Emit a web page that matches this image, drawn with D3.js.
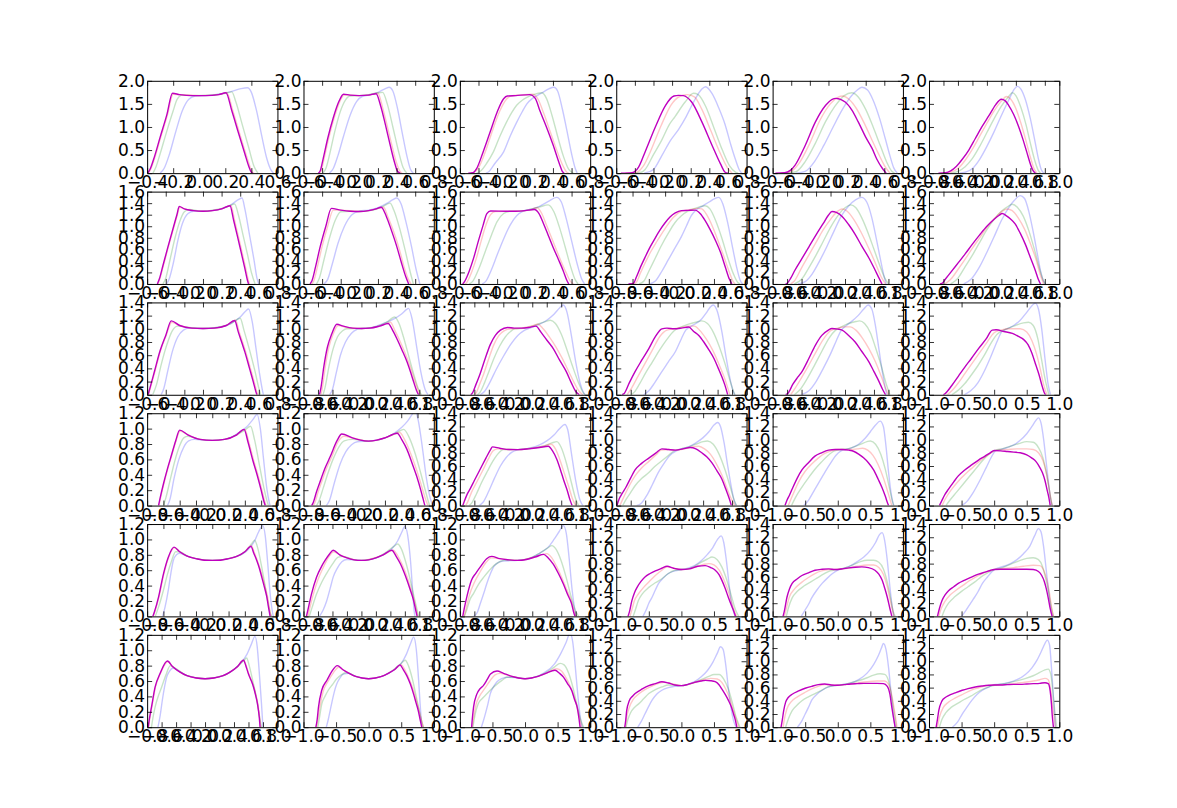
<!DOCTYPE html>
<html><head><meta charset="utf-8">
<script src="https://cdn.jsdelivr.net/npm/d3@7"></script>
<style>body{margin:0;background:#fff}svg{display:block}</style>
</head><body><svg id="c" width="1177" height="808"></svg>
<script>
// x-axis limits of each panel (row-major, 6x6)
const xDomains = [
 [-0.4,0.6],[-0.6,0.8],[-0.6,0.8],[-0.6,0.8],[-0.6,0.8],[-0.8,1.0],
 [-0.6,0.8],[-0.6,0.8],[-0.6,0.8],[-0.8,0.8],[-0.8,1.0],[-0.8,1.0],
 [-0.6,0.8],[-0.8,1.0],[-0.8,1.0],[-0.8,1.0],[-0.8,1.0],[-1,1],
 [-0.8,0.8],[-0.8,0.8],[-0.8,1.0],[-0.8,1.0],[-1,1],[-1,1],
 [-0.8,0.8],[-0.8,1.0],[-0.8,1.0],[-1,1],[-1,1],[-1,1],
 [-0.8,1.0],[-1,1],[-1,1],[-1,1],[-1,1],[-1,1]
];
// y-axis upper limit of each panel
const yMaxes = [
 2.0,2.0,2.0,2.0,2.0,2.0,
 1.6,1.6,1.6,1.6,1.6,1.6,
 1.4,1.4,1.4,1.4,1.4,1.4,
 1.2,1.2,1.4,1.4,1.4,1.4,
 1.2,1.2,1.2,1.4,1.4,1.4,
 1.2,1.2,1.2,1.4,1.4,1.4
];

const magenta = [
[[-0.395,0],[-0.375,0.1],[-0.35,0.3],[-0.3,0.78],[-0.25,1.25],[-0.205,1.73],[-0.15,1.7],[-0.05,1.68],[0.05,1.68],[0.15,1.7],[0.205,1.74],[0.25,1.35],[0.3,0.88],[0.35,0.42],[0.38,0.15],[0.4,0.02],[0.41,0]],
[[-0.44,0],[-0.42,0.05],[-0.39,0.3],[-0.34,0.75],[-0.28,1.2],[-0.22,1.55],[-0.17,1.71],[-0.1,1.69],[0,1.68],[0.1,1.69],[0.18,1.72],[0.23,1.45],[0.28,1.05],[0.33,0.62],[0.38,0.22],[0.41,0.04],[0.44,0]],
[[-0.51,0],[-0.46,0.01],[-0.42,0.1],[-0.35,0.46],[-0.275,0.89],[-0.2,1.32],[-0.13,1.61],[-0.09,1.67],[0,1.68],[0.15,1.7],[0.21,1.62],[0.26,1.35],[0.33,1.0],[0.4,0.62],[0.47,0.2],[0.5,0.04],[0.52,0]],
[[-0.55,0],[-0.43,0.01],[-0.36,0.13],[-0.29,0.46],[-0.18,1.0],[-0.07,1.47],[0.02,1.67],[0.07,1.685],[0.12,1.68],[0.21,1.54],[0.32,1.11],[0.43,0.6],[0.52,0.2],[0.57,0.02],[0.6,0]],
[[-0.57,0],[-0.47,0.01],[-0.41,0.06],[-0.36,0.17],[-0.25,0.6],[-0.14,1.11],[-0.03,1.47],[0.04,1.6],[0.08,1.62],[0.18,1.54],[0.25,1.37],[0.32,1.11],[0.4,0.78],[0.47,0.53],[0.52,0.3],[0.58,0.1],[0.62,0]],
[[-0.67,0],[-0.57,0.01],[-0.5,0.05],[-0.42,0.15],[-0.34,0.3],[-0.25,0.5],[-0.16,0.75],[-0.07,1.0],[0.03,1.25],[0.12,1.48],[0.2,1.6],[0.25,1.57],[0.3,1.47],[0.37,1.27],[0.44,1.0],[0.5,0.72],[0.55,0.46],[0.6,0.2],[0.64,0.05],[0.67,0]],
[[-0.49,0],[-0.47,0.08],[-0.43,0.32],[-0.38,0.62],[-0.32,0.97],[-0.28,1.2],[-0.255,1.345],[-0.2,1.3],[-0.1,1.27],[0,1.26],[0.1,1.27],[0.2,1.3],[0.29,1.355],[0.33,1.1],[0.37,0.83],[0.41,0.55],[0.45,0.27],[0.48,0.05],[0.49,0]],
[[-0.53,0],[-0.51,0.05],[-0.47,0.3],[-0.42,0.65],[-0.36,1.0],[-0.3,1.31],[-0.2,1.28],[-0.1,1.26],[0,1.255],[0.1,1.27],[0.18,1.3],[0.235,1.33],[0.29,1.17],[0.34,0.95],[0.4,0.66],[0.45,0.38],[0.5,0.12],[0.53,0]],
[[-0.57,0],[-0.55,0.04],[-0.5,0.22],[-0.45,0.46],[-0.4,0.75],[-0.35,1.02],[-0.31,1.22],[-0.27,1.265],[-0.1,1.26],[0,1.26],[0.1,1.27],[0.2,1.29],[0.25,1.22],[0.3,1.04],[0.35,0.84],[0.4,0.64],[0.46,0.42],[0.51,0.23],[0.55,0.06],[0.57,0]],
[[-0.65,0],[-0.59,0.01],[-0.55,0.13],[-0.5,0.3],[-0.44,0.48],[-0.38,0.65],[-0.32,0.8],[-0.26,0.94],[-0.2,1.06],[-0.14,1.16],[-0.075,1.23],[0,1.27],[0.08,1.275],[0.17,1.28],[0.23,1.22],[0.29,1.1],[0.35,0.95],[0.42,0.75],[0.48,0.55],[0.54,0.29],[0.59,0.08],[0.62,0]],
[[-0.62,0],[-0.6,0.01],[-0.55,0.1],[-0.5,0.22],[-0.4,0.43],[-0.3,0.64],[-0.2,0.85],[-0.1,1.05],[-0.03,1.19],[0.02,1.255],[0.08,1.24],[0.16,1.17],[0.25,1.03],[0.34,0.86],[0.43,0.66],[0.53,0.45],[0.6,0.28],[0.67,0.1],[0.71,0]],
[[-0.65,0],[-0.62,0.01],[-0.57,0.09],[-0.5,0.2],[-0.4,0.36],[-0.3,0.52],[-0.2,0.69],[-0.1,0.85],[0,1.0],[0.1,1.12],[0.17,1.19],[0.21,1.22],[0.27,1.18],[0.33,1.12],[0.39,1.04],[0.46,0.88],[0.53,0.69],[0.6,0.46],[0.67,0.23],[0.71,0.08],[0.74,0]],
[[-0.59,0],[-0.57,0.1],[-0.52,0.36],[-0.46,0.67],[-0.4,0.9],[-0.34,1.12],[-0.25,1.05],[-0.12,1.01],[0,1.005],[0.12,1.01],[0.25,1.05],[0.34,1.125],[0.38,0.95],[0.42,0.78],[0.45,0.65],[0.5,0.4],[0.54,0.2],[0.57,0.04],[0.58,0]],
[[-0.58,0],[-0.56,0.1],[-0.52,0.42],[-0.47,0.72],[-0.41,0.92],[-0.34,1.07],[-0.25,1.04],[-0.12,1.01],[0,1.005],[0.12,1.01],[0.25,1.04],[0.37,1.08],[0.43,0.98],[0.49,0.85],[0.56,0.68],[0.63,0.5],[0.68,0.34],[0.72,0.2],[0.76,0.07],[0.79,0]],
[[-0.65,0],[-0.63,0.02],[-0.58,0.15],[-0.52,0.32],[-0.45,0.55],[-0.38,0.76],[-0.31,0.9],[-0.24,0.98],[-0.14,1.02],[-0.05,1.01],[0.05,1.01],[0.15,1.02],[0.25,1.04],[0.32,0.95],[0.4,0.83],[0.49,0.7],[0.58,0.52],[0.67,0.35],[0.74,0.18],[0.8,0.05],[0.85,0]],
[[-0.72,0],[-0.69,0.02],[-0.62,0.18],[-0.54,0.35],[-0.45,0.52],[-0.35,0.7],[-0.26,0.88],[-0.17,1.0],[-0.1,1.01],[0,1.0],[0.1,1.01],[0.2,1.027],[0.27,0.96],[0.34,0.9],[0.41,0.8],[0.48,0.68],[0.55,0.55],[0.61,0.4],[0.66,0.27],[0.7,0.15],[0.74,0]],
[[-0.62,0],[-0.59,0.02],[-0.52,0.16],[-0.45,0.27],[-0.39,0.36],[-0.3,0.55],[-0.21,0.75],[-0.12,0.9],[-0.03,0.98],[0.02,1.005],[0.1,0.995],[0.16,0.98],[0.25,0.9],[0.34,0.8],[0.43,0.66],[0.53,0.5],[0.6,0.35],[0.67,0.2],[0.72,0.08],[0.76,0]],
[[-0.78,0],[-0.75,0.02],[-0.65,0.14],[-0.55,0.28],[-0.45,0.42],[-0.35,0.55],[-0.24,0.7],[-0.12,0.85],[-0.03,0.98],[0.03,0.985],[0.15,0.96],[0.28,0.93],[0.38,0.88],[0.45,0.84],[0.52,0.76],[0.58,0.63],[0.64,0.45],[0.69,0.3],[0.74,0.12],[0.77,0.03],[0.79,0]],
[[-0.66,0],[-0.64,0.1],[-0.6,0.28],[-0.55,0.48],[-0.5,0.66],[-0.45,0.84],[-0.4,0.98],[-0.3,0.92],[-0.15,0.86],[0,0.847],[0.15,0.86],[0.3,0.92],[0.39,0.99],[0.44,0.82],[0.5,0.58],[0.55,0.4],[0.6,0.2],[0.63,0.07],[0.65,0]],
[[-0.7,0],[-0.68,0.04],[-0.64,0.18],[-0.6,0.3],[-0.53,0.5],[-0.47,0.64],[-0.39,0.84],[-0.33,0.93],[-0.2,0.88],[-0.1,0.85],[0,0.838],[0.1,0.85],[0.2,0.88],[0.35,0.94],[0.41,0.85],[0.47,0.73],[0.53,0.56],[0.59,0.38],[0.64,0.2],[0.67,0.08],[0.69,0]],
[[-0.76,0],[-0.74,0.06],[-0.7,0.17],[-0.66,0.25],[-0.6,0.38],[-0.52,0.55],[-0.44,0.72],[-0.38,0.84],[-0.35,0.89],[-0.25,0.87],[-0.12,0.85],[0,0.848],[0.15,0.86],[0.3,0.88],[0.42,0.9],[0.48,0.83],[0.54,0.7],[0.59,0.54],[0.63,0.4],[0.68,0.24],[0.72,0.09],[0.75,0]],
[[-0.79,0],[-0.76,0.1],[-0.72,0.18],[-0.67,0.27],[-0.6,0.42],[-0.54,0.54],[-0.45,0.64],[-0.35,0.72],[-0.25,0.8],[-0.17,0.86],[-0.08,0.85],[0.02,0.84],[0.12,0.86],[0.22,0.88],[0.3,0.86],[0.38,0.8],[0.45,0.74],[0.52,0.65],[0.59,0.53],[0.66,0.4],[0.71,0.26],[0.75,0.14],[0.78,0.04],[0.79,0]],
[[-0.81,0],[-0.78,0.08],[-0.74,0.16],[-0.7,0.25],[-0.62,0.42],[-0.55,0.54],[-0.45,0.65],[-0.35,0.75],[-0.25,0.8],[-0.14,0.84],[-0.04,0.85],[0.07,0.85],[0.17,0.84],[0.25,0.82],[0.32,0.78],[0.4,0.72],[0.47,0.65],[0.55,0.54],[0.62,0.4],[0.68,0.27],[0.73,0.14],[0.76,0.05],[0.78,0]],
[[-0.84,0],[-0.81,0.06],[-0.76,0.16],[-0.7,0.25],[-0.62,0.36],[-0.55,0.45],[-0.45,0.54],[-0.34,0.62],[-0.24,0.69],[-0.14,0.75],[-0.06,0.8],[0,0.835],[0.1,0.83],[0.2,0.82],[0.3,0.81],[0.4,0.8],[0.5,0.77],[0.58,0.72],[0.64,0.67],[0.7,0.58],[0.74,0.5],[0.78,0.38],[0.81,0.25],[0.84,0.12],[0.86,0]],
[[-0.73,0],[-0.71,0.06],[-0.66,0.25],[-0.6,0.55],[-0.54,0.77],[-0.47,0.9],[-0.4,0.84],[-0.3,0.78],[-0.2,0.75],[-0.1,0.73],[0,0.728],[0.1,0.73],[0.2,0.75],[0.3,0.78],[0.4,0.84],[0.475,0.91],[0.51,0.82],[0.545,0.73],[0.58,0.62],[0.61,0.5],[0.64,0.38],[0.67,0.25],[0.69,0.12],[0.71,0]],
[[-0.76,0],[-0.74,0.08],[-0.69,0.29],[-0.62,0.51],[-0.55,0.65],[-0.5,0.73],[-0.44,0.81],[-0.39,0.86],[-0.3,0.8],[-0.2,0.76],[-0.1,0.735],[0,0.728],[0.1,0.735],[0.2,0.76],[0.3,0.8],[0.42,0.86],[0.48,0.78],[0.54,0.68],[0.59,0.57],[0.63,0.47],[0.68,0.33],[0.72,0.21],[0.75,0.08],[0.77,0]],
[[-0.76,0],[-0.74,0.1],[-0.7,0.27],[-0.64,0.47],[-0.58,0.56],[-0.52,0.64],[-0.43,0.75],[-0.36,0.78],[-0.25,0.75],[-0.12,0.735],[0,0.728],[0.12,0.74],[0.25,0.775],[0.355,0.806],[0.42,0.76],[0.49,0.68],[0.56,0.56],[0.63,0.42],[0.69,0.28],[0.745,0.16],[0.77,0.06],[0.79,0]],
[[-0.82,0],[-0.8,0.06],[-0.76,0.24],[-0.72,0.36],[-0.68,0.44],[-0.62,0.53],[-0.555,0.6],[-0.48,0.65],[-0.4,0.69],[-0.3,0.73],[-0.22,0.76],[-0.12,0.73],[0,0.71],[0.12,0.72],[0.25,0.76],[0.365,0.77],[0.45,0.74],[0.52,0.7],[0.58,0.63],[0.62,0.55],[0.67,0.43],[0.72,0.29],[0.77,0.16],[0.8,0.09],[0.83,0]],
[[-0.84,0],[-0.82,0.08],[-0.78,0.29],[-0.74,0.42],[-0.7,0.5],[-0.62,0.57],[-0.55,0.62],[-0.45,0.66],[-0.35,0.7],[-0.24,0.715],[-0.14,0.72],[-0.04,0.71],[0.07,0.72],[0.17,0.735],[0.27,0.745],[0.37,0.75],[0.47,0.74],[0.57,0.7],[0.63,0.64],[0.68,0.55],[0.72,0.43],[0.76,0.29],[0.8,0.12],[0.83,0]],
[[-0.87,0],[-0.84,0.12],[-0.8,0.24],[-0.75,0.33],[-0.7,0.39],[-0.62,0.45],[-0.55,0.5],[-0.45,0.55],[-0.34,0.6],[-0.24,0.64],[-0.14,0.67],[-0.05,0.7],[0,0.71],[0.1,0.715],[0.2,0.715],[0.3,0.715],[0.4,0.715],[0.5,0.715],[0.6,0.71],[0.68,0.68],[0.73,0.62],[0.77,0.53],[0.8,0.42],[0.83,0.28],[0.86,0.12],[0.89,0]],
[[-0.785,0],[-0.77,0.1],[-0.74,0.26],[-0.69,0.52],[-0.62,0.7],[-0.52,0.86],[-0.45,0.79],[-0.35,0.72],[-0.25,0.67],[-0.12,0.64],[0,0.63],[0.12,0.64],[0.25,0.67],[0.35,0.72],[0.45,0.79],[0.53,0.87],[0.57,0.78],[0.6,0.69],[0.64,0.6],[0.67,0.52],[0.7,0.41],[0.725,0.3],[0.75,0.12],[0.76,0]],
[[-0.81,0],[-0.79,0.1],[-0.77,0.26],[-0.72,0.48],[-0.64,0.61],[-0.57,0.72],[-0.48,0.8],[-0.4,0.75],[-0.3,0.7],[-0.2,0.66],[-0.1,0.64],[0,0.63],[0.1,0.64],[0.2,0.66],[0.3,0.7],[0.4,0.75],[0.48,0.81],[0.53,0.75],[0.585,0.67],[0.64,0.56],[0.69,0.43],[0.73,0.31],[0.76,0.22],[0.79,0.1],[0.815,0]],
[[-0.82,0],[-0.81,0.1],[-0.79,0.26],[-0.74,0.43],[-0.69,0.5],[-0.64,0.54],[-0.58,0.62],[-0.53,0.69],[-0.43,0.73],[-0.33,0.7],[-0.2,0.66],[-0.1,0.64],[0,0.63],[0.1,0.64],[0.2,0.66],[0.32,0.7],[0.46,0.74],[0.53,0.7],[0.59,0.65],[0.65,0.57],[0.72,0.47],[0.76,0.36],[0.8,0.26],[0.83,0.1],[0.845,0]],
[[-0.87,0],[-0.855,0.1],[-0.84,0.25],[-0.8,0.4],[-0.75,0.47],[-0.71,0.51],[-0.6,0.58],[-0.5,0.63],[-0.4,0.66],[-0.3,0.69],[-0.2,0.67],[-0.1,0.64],[0,0.63],[0.1,0.65],[0.2,0.68],[0.3,0.7],[0.37,0.71],[0.45,0.705],[0.52,0.69],[0.58,0.64],[0.62,0.58],[0.67,0.5],[0.72,0.41],[0.77,0.3],[0.8,0.2],[0.83,0.1],[0.85,0]],
[[-0.87,0],[-0.85,0.12],[-0.83,0.25],[-0.8,0.38],[-0.76,0.45],[-0.7,0.5],[-0.6,0.55],[-0.5,0.59],[-0.4,0.62],[-0.3,0.645],[-0.2,0.655],[-0.1,0.64],[0,0.635],[0.1,0.645],[0.2,0.655],[0.3,0.66],[0.4,0.665],[0.5,0.665],[0.6,0.665],[0.7,0.66],[0.76,0.62],[0.8,0.5],[0.83,0.3],[0.86,0.12],[0.88,0]],
[[-0.89,0],[-0.87,0.12],[-0.85,0.25],[-0.8,0.4],[-0.75,0.45],[-0.7,0.48],[-0.6,0.52],[-0.49,0.56],[-0.4,0.585],[-0.29,0.61],[-0.18,0.625],[-0.08,0.635],[0,0.64],[0.1,0.64],[0.2,0.645],[0.3,0.65],[0.4,0.65],[0.5,0.655],[0.6,0.66],[0.7,0.665],[0.78,0.675],[0.83,0.66],[0.86,0.55],[0.88,0.35],[0.89,0.2],[0.91,0]]
];

const red = [
[[-0.39,0],[-0.37,0.1],[-0.345,0.3],[-0.295,0.78],[-0.245,1.25],[-0.2,1.71],[-0.15,1.7],[0,1.68],[0.15,1.7],[0.21,1.745],[0.26,1.33],[0.31,0.86],[0.36,0.4],[0.39,0.14],[0.41,0.02],[0.42,0]],
[[-0.43,0],[-0.41,0.05],[-0.38,0.3],[-0.33,0.75],[-0.27,1.2],[-0.21,1.55],[-0.16,1.69],[-0.1,1.69],[0,1.68],[0.1,1.69],[0.2,1.73],[0.25,1.42],[0.3,1.02],[0.35,0.6],[0.4,0.22],[0.44,0.03],[0.46,0]],
[[-0.48,0],[-0.43,0.04],[-0.39,0.15],[-0.32,0.5],[-0.25,0.92],[-0.17,1.35],[-0.1,1.6],[-0.05,1.67],[0.05,1.69],[0.18,1.71],[0.24,1.6],[0.3,1.3],[0.37,0.9],[0.44,0.5],[0.51,0.15],[0.55,0.02],[0.57,0]],
[[-0.5,0],[-0.38,0.02],[-0.31,0.15],[-0.23,0.48],[-0.12,1.02],[-0.01,1.48],[0.08,1.66],[0.16,1.7],[0.24,1.65],[0.32,1.38],[0.42,0.9],[0.52,0.42],[0.6,0.1],[0.645,0]],
[[-0.52,0],[-0.42,0.02],[-0.32,0.2],[-0.2,0.65],[-0.09,1.15],[0.02,1.5],[0.1,1.64],[0.15,1.67],[0.22,1.6],[0.3,1.4],[0.38,1.1],[0.46,0.75],[0.53,0.45],[0.6,0.17],[0.66,0]],
[[-0.6,0],[-0.5,0.02],[-0.4,0.1],[-0.3,0.28],[-0.2,0.52],[-0.1,0.8],[0,1.08],[0.1,1.35],[0.2,1.56],[0.27,1.66],[0.33,1.6],[0.4,1.4],[0.47,1.08],[0.54,0.7],[0.6,0.35],[0.65,0.1],[0.69,0]],
[[-0.485,0],[-0.465,0.08],[-0.425,0.32],[-0.375,0.62],[-0.315,0.97],[-0.275,1.2],[-0.25,1.33],[-0.2,1.3],[-0.1,1.27],[0,1.26],[0.1,1.27],[0.2,1.3],[0.3,1.36],[0.34,1.1],[0.38,0.83],[0.42,0.55],[0.46,0.27],[0.49,0.05],[0.5,0]],
[[-0.51,0],[-0.49,0.05],[-0.45,0.3],[-0.4,0.65],[-0.34,1.0],[-0.28,1.28],[-0.2,1.28],[0,1.255],[0.1,1.27],[0.2,1.31],[0.26,1.33],[0.31,1.15],[0.37,0.9],[0.43,0.6],[0.48,0.3],[0.53,0.07],[0.555,0]],
[[-0.54,0],[-0.52,0.04],[-0.47,0.22],[-0.42,0.46],[-0.37,0.75],[-0.32,1.02],[-0.27,1.2],[-0.22,1.255],[0,1.26],[0.15,1.28],[0.23,1.32],[0.28,1.22],[0.33,1.02],[0.4,0.74],[0.47,0.46],[0.54,0.2],[0.59,0.04],[0.62,0]],
[[-0.61,0],[-0.56,0.02],[-0.5,0.2],[-0.44,0.38],[-0.38,0.55],[-0.3,0.74],[-0.2,0.96],[-0.1,1.15],[0,1.26],[0.1,1.285],[0.2,1.31],[0.25,1.3],[0.31,1.2],[0.38,1.0],[0.45,0.75],[0.52,0.48],[0.59,0.2],[0.64,0.03],[0.66,0]],
[[-0.55,0],[-0.5,0.05],[-0.4,0.28],[-0.3,0.5],[-0.2,0.72],[-0.1,0.94],[0,1.12],[0.08,1.24],[0.16,1.3],[0.23,1.26],[0.32,1.12],[0.42,0.9],[0.52,0.64],[0.62,0.36],[0.7,0.12],[0.76,0]],
[[-0.58,0],[-0.5,0.08],[-0.4,0.25],[-0.3,0.43],[-0.2,0.62],[-0.1,0.8],[0,0.98],[0.1,1.13],[0.2,1.25],[0.28,1.3],[0.35,1.27],[0.43,1.15],[0.52,0.95],[0.6,0.7],[0.68,0.42],[0.74,0.15],[0.785,0]],
[[-0.585,0],[-0.565,0.1],[-0.515,0.36],[-0.455,0.67],[-0.395,0.9],[-0.335,1.1],[-0.25,1.05],[-0.12,1.01],[0,1.005],[0.12,1.01],[0.25,1.05],[0.35,1.13],[0.39,0.95],[0.43,0.78],[0.46,0.65],[0.51,0.4],[0.55,0.2],[0.58,0.04],[0.59,0]],
[[-0.56,0],[-0.54,0.1],[-0.5,0.42],[-0.45,0.72],[-0.39,0.92],[-0.32,1.05],[-0.2,1.02],[0,1.005],[0.2,1.03],[0.3,1.06],[0.4,1.1],[0.46,0.98],[0.53,0.82],[0.6,0.64],[0.67,0.44],[0.73,0.24],[0.78,0.08],[0.81,0]],
[[-0.6,0],[-0.58,0.02],[-0.53,0.15],[-0.47,0.32],[-0.4,0.55],[-0.33,0.76],[-0.26,0.9],[-0.19,0.97],[-0.1,1.0],[0.05,1.01],[0.18,1.04],[0.28,1.07],[0.35,1.0],[0.44,0.87],[0.53,0.72],[0.62,0.54],[0.7,0.36],[0.78,0.18],[0.85,0.05],[0.9,0]],
[[-0.65,0],[-0.6,0.08],[-0.5,0.28],[-0.4,0.48],[-0.3,0.68],[-0.2,0.88],[-0.1,0.98],[0,1.0],[0.1,1.02],[0.2,1.04],[0.28,1.04],[0.35,0.98],[0.44,0.85],[0.53,0.68],[0.62,0.46],[0.7,0.24],[0.75,0.07],[0.77,0]],
[[-0.55,0],[-0.5,0.08],[-0.4,0.26],[-0.3,0.45],[-0.2,0.65],[-0.1,0.84],[0,0.97],[0.1,1.01],[0.2,1.03],[0.27,1.03],[0.35,0.98],[0.44,0.86],[0.53,0.7],[0.62,0.5],[0.7,0.28],[0.76,0.1],[0.8,0]],
[[-0.72,0],[-0.65,0.06],[-0.55,0.18],[-0.45,0.32],[-0.35,0.46],[-0.25,0.6],[-0.12,0.78],[0,0.94],[0.1,0.98],[0.25,1.0],[0.4,1.0],[0.5,0.95],[0.58,0.82],[0.65,0.62],[0.71,0.38],[0.76,0.15],[0.81,0]],
[[-0.655,0],[-0.635,0.1],[-0.595,0.28],[-0.545,0.48],[-0.495,0.66],[-0.445,0.84],[-0.395,0.97],[-0.3,0.92],[-0.15,0.86],[0,0.847],[0.15,0.86],[0.3,0.92],[0.4,0.99],[0.45,0.82],[0.51,0.58],[0.56,0.4],[0.61,0.2],[0.64,0.07],[0.66,0]],
[[-0.68,0],[-0.66,0.04],[-0.62,0.18],[-0.58,0.3],[-0.51,0.5],[-0.45,0.64],[-0.38,0.82],[-0.3,0.9],[-0.2,0.88],[0,0.838],[0.2,0.88],[0.3,0.92],[0.38,0.95],[0.44,0.86],[0.5,0.72],[0.56,0.55],[0.62,0.36],[0.67,0.18],[0.71,0.05],[0.73,0]],
[[-0.72,0],[-0.69,0.06],[-0.64,0.2],[-0.57,0.35],[-0.49,0.52],[-0.41,0.7],[-0.34,0.83],[-0.28,0.86],[-0.12,0.85],[0,0.848],[0.2,0.87],[0.35,0.9],[0.46,0.93],[0.52,0.86],[0.58,0.7],[0.64,0.5],[0.7,0.3],[0.75,0.12],[0.8,0]],
[[-0.75,0],[-0.7,0.12],[-0.62,0.3],[-0.54,0.45],[-0.45,0.57],[-0.35,0.67],[-0.25,0.77],[-0.18,0.84],[-0.08,0.85],[0.02,0.84],[0.15,0.86],[0.25,0.89],[0.34,0.9],[0.42,0.86],[0.5,0.78],[0.58,0.64],[0.66,0.46],[0.73,0.26],[0.79,0.1],[0.84,0]],
[[-0.76,0],[-0.7,0.14],[-0.6,0.36],[-0.5,0.52],[-0.4,0.63],[-0.3,0.72],[-0.2,0.79],[-0.1,0.83],[0,0.85],[0.1,0.85],[0.2,0.85],[0.3,0.86],[0.38,0.87],[0.46,0.84],[0.54,0.76],[0.62,0.62],[0.7,0.42],[0.77,0.2],[0.83,0]],
[[-0.8,0],[-0.75,0.1],[-0.65,0.25],[-0.55,0.37],[-0.45,0.47],[-0.35,0.56],[-0.25,0.65],[-0.15,0.73],[-0.05,0.8],[0.05,0.84],[0.2,0.85],[0.35,0.86],[0.5,0.86],[0.6,0.85],[0.68,0.8],[0.75,0.68],[0.8,0.5],[0.84,0.28],[0.87,0.1],[0.89,0]],
[[-0.725,0],[-0.705,0.06],[-0.655,0.25],[-0.595,0.55],[-0.535,0.77],[-0.465,0.89],[-0.4,0.84],[-0.3,0.78],[0,0.728],[0.3,0.78],[0.4,0.84],[0.48,0.92],[0.52,0.82],[0.555,0.72],[0.59,0.61],[0.62,0.5],[0.65,0.38],[0.68,0.25],[0.7,0.12],[0.72,0]],
[[-0.74,0],[-0.72,0.08],[-0.67,0.27],[-0.6,0.48],[-0.53,0.63],[-0.46,0.76],[-0.38,0.84],[-0.3,0.8],[0,0.728],[0.3,0.8],[0.44,0.86],[0.5,0.79],[0.56,0.68],[0.62,0.54],[0.67,0.4],[0.72,0.24],[0.76,0.08],[0.78,0]],
[[-0.74,0],[-0.72,0.08],[-0.67,0.27],[-0.6,0.44],[-0.52,0.58],[-0.44,0.7],[-0.36,0.76],[-0.25,0.75],[0,0.728],[0.25,0.775],[0.4,0.815],[0.47,0.76],[0.54,0.64],[0.61,0.5],[0.68,0.34],[0.74,0.2],[0.78,0.07],[0.81,0]],
[[-0.79,0],[-0.76,0.1],[-0.72,0.24],[-0.66,0.34],[-0.58,0.44],[-0.5,0.52],[-0.4,0.62],[-0.3,0.7],[-0.22,0.75],[-0.12,0.73],[0,0.71],[0.12,0.72],[0.25,0.76],[0.35,0.79],[0.42,0.8],[0.5,0.78],[0.58,0.7],[0.65,0.56],[0.72,0.38],[0.78,0.18],[0.83,0.04],[0.85,0]],
[[-0.82,0],[-0.79,0.12],[-0.74,0.3],[-0.66,0.42],[-0.55,0.52],[-0.45,0.59],[-0.35,0.65],[-0.25,0.69],[-0.12,0.71],[0,0.715],[0.15,0.73],[0.3,0.76],[0.45,0.78],[0.55,0.78],[0.63,0.74],[0.7,0.64],[0.76,0.45],[0.81,0.22],[0.85,0.05],[0.86,0]],
[[-0.85,0],[-0.82,0.1],[-0.76,0.22],[-0.68,0.32],[-0.58,0.4],[-0.48,0.47],[-0.38,0.54],[-0.28,0.6],[-0.18,0.65],[-0.08,0.69],[0,0.71],[0.15,0.725],[0.3,0.74],[0.45,0.76],[0.6,0.775],[0.7,0.77],[0.76,0.7],[0.81,0.55],[0.85,0.35],[0.88,0.15],[0.91,0]],
[[-0.78,0],[-0.765,0.1],[-0.735,0.26],[-0.685,0.52],[-0.615,0.7],[-0.515,0.85],[-0.45,0.79],[-0.35,0.72],[-0.25,0.67],[0,0.63],[0.25,0.67],[0.35,0.72],[0.45,0.79],[0.535,0.87],[0.575,0.78],[0.605,0.69],[0.645,0.6],[0.675,0.52],[0.705,0.41],[0.73,0.3],[0.755,0.12],[0.77,0]],
[[-0.8,0],[-0.78,0.1],[-0.75,0.26],[-0.7,0.46],[-0.62,0.6],[-0.54,0.71],[-0.46,0.78],[-0.4,0.75],[-0.2,0.66],[0,0.63],[0.2,0.66],[0.4,0.75],[0.5,0.81],[0.56,0.74],[0.62,0.63],[0.68,0.5],[0.73,0.36],[0.78,0.2],[0.82,0.06],[0.84,0]],
[[-0.81,0],[-0.79,0.12],[-0.75,0.3],[-0.7,0.4],[-0.62,0.5],[-0.54,0.6],[-0.46,0.68],[-0.38,0.7],[-0.2,0.66],[0,0.63],[0.2,0.66],[0.35,0.71],[0.49,0.76],[0.56,0.73],[0.63,0.64],[0.7,0.52],[0.76,0.38],[0.81,0.22],[0.85,0.07],[0.87,0]],
[[-0.86,0],[-0.84,0.15],[-0.8,0.3],[-0.74,0.42],[-0.66,0.5],[-0.56,0.57],[-0.46,0.62],[-0.36,0.66],[-0.27,0.68],[-0.15,0.66],[0,0.63],[0.15,0.66],[0.3,0.71],[0.45,0.74],[0.55,0.73],[0.62,0.68],[0.68,0.58],[0.74,0.44],[0.79,0.28],[0.84,0.12],[0.88,0]],
[[-0.84,0],[-0.82,0.12],[-0.78,0.28],[-0.72,0.38],[-0.62,0.46],[-0.5,0.53],[-0.4,0.58],[-0.3,0.62],[-0.2,0.645],[-0.1,0.64],[0,0.635],[0.15,0.65],[0.3,0.67],[0.45,0.69],[0.6,0.7],[0.72,0.7],[0.78,0.65],[0.83,0.48],[0.87,0.25],[0.91,0]],
[[-0.87,0],[-0.84,0.15],[-0.78,0.3],[-0.7,0.38],[-0.6,0.44],[-0.5,0.49],[-0.4,0.54],[-0.3,0.58],[-0.2,0.61],[-0.1,0.63],[0,0.64],[0.15,0.645],[0.3,0.66],[0.45,0.68],[0.6,0.7],[0.7,0.72],[0.78,0.74],[0.83,0.72],[0.87,0.55],[0.9,0.3],[0.93,0.08],[0.94,0]]
];

const green = [
[[-0.355,0],[-0.33,0.15],[-0.3,0.42],[-0.25,0.9],[-0.2,1.35],[-0.17,1.6],[-0.13,1.69],[-0.05,1.68],[0.1,1.69],[0.2,1.73],[0.25,1.76],[0.28,1.55],[0.33,1.05],[0.38,0.55],[0.42,0.15],[0.45,0]],
[[-0.39,0],[-0.36,0.1],[-0.32,0.4],[-0.27,0.85],[-0.21,1.3],[-0.15,1.58],[-0.1,1.67],[0,1.68],[0.1,1.7],[0.2,1.74],[0.25,1.75],[0.3,1.5],[0.36,1.0],[0.42,0.48],[0.47,0.12],[0.51,0]],
[[-0.42,0],[-0.38,0.04],[-0.31,0.22],[-0.24,0.46],[-0.17,0.8],[-0.1,1.1],[-0.04,1.32],[0.01,1.47],[0.07,1.58],[0.12,1.64],[0.19,1.7],[0.28,1.74],[0.33,1.62],[0.39,1.25],[0.45,0.8],[0.51,0.38],[0.57,0.08],[0.62,0]],
[[-0.4,0],[-0.33,0.02],[-0.29,0.08],[-0.2,0.4],[-0.11,0.72],[-0.03,1.05],[0.03,1.22],[0.14,1.54],[0.23,1.73],[0.28,1.7],[0.36,1.45],[0.45,0.98],[0.54,0.5],[0.62,0.15],[0.68,0.02],[0.71,0]],
[[-0.45,0],[-0.35,0.03],[-0.25,0.25],[-0.14,0.65],[-0.03,1.12],[0.07,1.45],[0.17,1.68],[0.25,1.74],[0.32,1.65],[0.4,1.38],[0.48,1.0],[0.56,0.58],[0.63,0.22],[0.68,0.04],[0.71,0]],
[[-0.5,0],[-0.4,0.04],[-0.3,0.14],[-0.2,0.32],[-0.1,0.58],[0,0.88],[0.1,1.18],[0.2,1.45],[0.3,1.66],[0.35,1.74],[0.4,1.68],[0.47,1.42],[0.54,1.05],[0.6,0.65],[0.66,0.28],[0.71,0.06],[0.74,0]],
[[-0.43,0],[-0.4,0.1],[-0.35,0.45],[-0.3,0.8],[-0.25,1.08],[-0.2,1.25],[-0.15,1.29],[0,1.26],[0.15,1.29],[0.28,1.35],[0.34,1.385],[0.38,1.2],[0.43,0.85],[0.48,0.5],[0.52,0.2],[0.56,0]],
[[-0.46,0],[-0.43,0.1],[-0.38,0.42],[-0.32,0.8],[-0.26,1.1],[-0.2,1.25],[-0.1,1.26],[0,1.255],[0.15,1.28],[0.25,1.34],[0.33,1.4],[0.37,1.28],[0.43,0.98],[0.49,0.6],[0.54,0.25],[0.58,0]],
[[-0.5,0],[-0.46,0.05],[-0.4,0.25],[-0.33,0.55],[-0.26,0.85],[-0.2,1.08],[-0.13,1.22],[-0.06,1.26],[0.05,1.265],[0.15,1.29],[0.25,1.33],[0.35,1.37],[0.41,1.25],[0.47,0.98],[0.53,0.65],[0.59,0.3],[0.64,0.07],[0.67,0]],
[[-0.52,0],[-0.46,0.05],[-0.4,0.22],[-0.32,0.45],[-0.24,0.68],[-0.16,0.88],[-0.08,1.06],[0,1.18],[0.08,1.26],[0.15,1.3],[0.23,1.34],[0.29,1.355],[0.35,1.3],[0.42,1.1],[0.5,0.78],[0.57,0.45],[0.64,0.17],[0.69,0.03],[0.72,0]],
[[-0.5,0],[-0.4,0.08],[-0.3,0.28],[-0.2,0.5],[-0.1,0.74],[0,0.98],[0.1,1.18],[0.2,1.32],[0.28,1.37],[0.35,1.32],[0.43,1.15],[0.52,0.88],[0.6,0.6],[0.68,0.32],[0.75,0.1],[0.8,0]],
[[-0.5,0],[-0.4,0.1],[-0.3,0.3],[-0.2,0.5],[-0.1,0.72],[0,0.94],[0.1,1.12],[0.2,1.26],[0.3,1.35],[0.35,1.38],[0.42,1.33],[0.5,1.18],[0.58,0.92],[0.66,0.58],[0.73,0.25],[0.78,0.06],[0.81,0]],
[[-0.54,0],[-0.5,0.15],[-0.45,0.45],[-0.39,0.75],[-0.33,0.97],[-0.27,1.04],[-0.15,1.02],[0,1.005],[0.15,1.02],[0.3,1.08],[0.4,1.16],[0.44,0.98],[0.5,0.68],[0.56,0.35],[0.6,0.1],[0.62,0]],
[[-0.53,0],[-0.5,0.12],[-0.45,0.42],[-0.39,0.7],[-0.33,0.88],[-0.26,0.97],[-0.2,1.0],[0,1.005],[0.2,1.03],[0.35,1.1],[0.46,1.18],[0.52,1.08],[0.58,0.88],[0.65,0.6],[0.72,0.32],[0.79,0.08],[0.83,0]],
[[-0.56,0],[-0.52,0.04],[-0.46,0.18],[-0.4,0.35],[-0.33,0.55],[-0.25,0.74],[-0.17,0.88],[-0.1,0.96],[-0.04,1.0],[0.1,1.01],[0.25,1.06],[0.38,1.11],[0.45,1.13],[0.52,1.08],[0.6,0.92],[0.68,0.68],[0.76,0.42],[0.84,0.18],[0.9,0.04],[0.93,0]],
[[-0.6,0],[-0.55,0.04],[-0.48,0.16],[-0.4,0.32],[-0.3,0.5],[-0.2,0.68],[-0.1,0.84],[0,0.97],[0.1,1.03],[0.2,1.07],[0.3,1.1],[0.38,1.12],[0.46,1.08],[0.54,0.95],[0.62,0.74],[0.7,0.48],[0.77,0.22],[0.82,0.05],[0.84,0]],
[[-0.5,0],[-0.42,0.08],[-0.32,0.25],[-0.22,0.45],[-0.12,0.66],[-0.02,0.86],[0.07,0.98],[0.15,1.03],[0.25,1.08],[0.35,1.11],[0.4,1.12],[0.47,1.08],[0.55,0.94],[0.62,0.72],[0.7,0.44],[0.77,0.16],[0.82,0]],
[[-0.65,0],[-0.55,0.07],[-0.45,0.17],[-0.35,0.3],[-0.25,0.44],[-0.15,0.6],[-0.05,0.78],[0.05,0.92],[0.15,0.98],[0.3,1.04],[0.45,1.09],[0.53,1.1],[0.6,1.05],[0.67,0.85],[0.73,0.52],[0.79,0.2],[0.84,0]],
[[-0.6,0],[-0.57,0.1],[-0.52,0.32],[-0.46,0.58],[-0.4,0.78],[-0.35,0.88],[-0.3,0.9],[-0.15,0.86],[0,0.847],[0.15,0.86],[0.3,0.92],[0.4,0.98],[0.47,1.03],[0.52,0.85],[0.58,0.52],[0.64,0.2],[0.68,0.03],[0.69,0]],
[[-0.64,0],[-0.61,0.06],[-0.56,0.22],[-0.5,0.42],[-0.43,0.62],[-0.36,0.77],[-0.3,0.84],[-0.2,0.86],[0,0.838],[0.2,0.88],[0.35,0.95],[0.43,0.99],[0.5,0.88],[0.57,0.68],[0.64,0.42],[0.7,0.18],[0.74,0.03],[0.75,0]],
[[-0.67,0],[-0.63,0.05],[-0.57,0.18],[-0.5,0.35],[-0.42,0.52],[-0.34,0.68],[-0.26,0.8],[-0.2,0.85],[0,0.848],[0.2,0.87],[0.35,0.9],[0.47,0.95],[0.54,0.97],[0.6,0.88],[0.67,0.65],[0.74,0.35],[0.8,0.1],[0.84,0]],
[[-0.71,0],[-0.66,0.1],[-0.6,0.2],[-0.54,0.3],[-0.45,0.41],[-0.35,0.5],[-0.26,0.6],[-0.17,0.68],[-0.08,0.76],[0,0.83],[0.1,0.86],[0.2,0.89],[0.3,0.93],[0.4,0.97],[0.46,0.98],[0.54,0.93],[0.62,0.78],[0.7,0.55],[0.77,0.3],[0.83,0.08],[0.86,0]],
[[-0.71,0],[-0.65,0.12],[-0.55,0.28],[-0.45,0.42],[-0.35,0.55],[-0.25,0.66],[-0.15,0.76],[-0.05,0.83],[0.05,0.85],[0.15,0.86],[0.25,0.89],[0.35,0.93],[0.45,0.97],[0.5,0.98],[0.58,0.93],[0.66,0.78],[0.73,0.55],[0.79,0.28],[0.84,0.06],[0.86,0]],
[[-0.74,0],[-0.68,0.08],[-0.58,0.2],[-0.48,0.32],[-0.38,0.44],[-0.28,0.56],[-0.18,0.68],[-0.08,0.78],[0.02,0.84],[0.12,0.86],[0.25,0.9],[0.38,0.94],[0.5,0.97],[0.6,0.96],[0.68,0.88],[0.75,0.72],[0.8,0.5],[0.84,0.28],[0.87,0.1],[0.89,0]],
[[-0.7,0],[-0.66,0.12],[-0.6,0.34],[-0.55,0.55],[-0.5,0.72],[-0.45,0.84],[-0.4,0.84],[-0.3,0.78],[0,0.728],[0.3,0.78],[0.42,0.86],[0.48,0.94],[0.52,0.99],[0.56,0.88],[0.6,0.68],[0.64,0.45],[0.68,0.2],[0.71,0.05],[0.73,0]],
[[-0.72,0],[-0.68,0.12],[-0.62,0.29],[-0.55,0.44],[-0.48,0.56],[-0.4,0.68],[-0.32,0.77],[-0.25,0.78],[-0.1,0.735],[0,0.728],[0.2,0.76],[0.35,0.84],[0.45,0.91],[0.5,0.94],[0.55,0.88],[0.62,0.68],[0.68,0.45],[0.74,0.2],[0.78,0.04],[0.79,0]],
[[-0.74,0],[-0.7,0.1],[-0.66,0.22],[-0.61,0.3],[-0.54,0.42],[-0.47,0.51],[-0.4,0.59],[-0.33,0.66],[-0.25,0.71],[-0.18,0.73],[0,0.728],[0.15,0.75],[0.3,0.82],[0.4,0.88],[0.47,0.92],[0.53,0.87],[0.6,0.72],[0.67,0.5],[0.73,0.28],[0.79,0.09],[0.84,0]],
[[-0.74,0],[-0.7,0.12],[-0.66,0.24],[-0.6,0.34],[-0.5,0.44],[-0.4,0.51],[-0.3,0.57],[-0.2,0.65],[-0.1,0.7],[0,0.71],[0.1,0.72],[0.2,0.76],[0.3,0.82],[0.4,0.87],[0.47,0.9],[0.55,0.86],[0.62,0.75],[0.7,0.54],[0.77,0.3],[0.83,0.1],[0.88,0]],
[[-0.79,0],[-0.76,0.12],[-0.7,0.28],[-0.62,0.38],[-0.52,0.46],[-0.42,0.52],[-0.32,0.58],[-0.22,0.64],[-0.12,0.69],[0,0.71],[0.12,0.74],[0.25,0.79],[0.35,0.83],[0.45,0.85],[0.55,0.85],[0.63,0.82],[0.7,0.72],[0.76,0.52],[0.81,0.28],[0.85,0.08],[0.88,0]],
[[-0.8,0],[-0.76,0.1],[-0.7,0.2],[-0.6,0.3],[-0.5,0.38],[-0.4,0.45],[-0.3,0.52],[-0.2,0.6],[-0.1,0.66],[0,0.71],[0.1,0.73],[0.2,0.77],[0.3,0.81],[0.4,0.85],[0.5,0.88],[0.6,0.89],[0.68,0.86],[0.74,0.76],[0.79,0.58],[0.84,0.34],[0.88,0.12],[0.91,0]],
[[-0.74,0],[-0.72,0.12],[-0.69,0.26],[-0.64,0.42],[-0.6,0.52],[-0.54,0.68],[-0.48,0.8],[-0.4,0.76],[-0.25,0.67],[0,0.63],[0.25,0.67],[0.45,0.79],[0.53,0.86],[0.575,0.9],[0.61,0.8],[0.66,0.6],[0.71,0.38],[0.75,0.15],[0.78,0]],
[[-0.78,0],[-0.75,0.15],[-0.72,0.3],[-0.67,0.4],[-0.62,0.48],[-0.55,0.56],[-0.49,0.63],[-0.42,0.68],[-0.34,0.71],[-0.2,0.66],[0,0.63],[0.2,0.66],[0.4,0.76],[0.5,0.83],[0.56,0.87],[0.61,0.8],[0.67,0.63],[0.73,0.4],[0.79,0.16],[0.84,0]],
[[-0.8,0],[-0.77,0.15],[-0.72,0.3],[-0.66,0.37],[-0.59,0.43],[-0.51,0.5],[-0.43,0.56],[-0.35,0.61],[-0.28,0.65],[-0.15,0.65],[0,0.63],[0.15,0.65],[0.3,0.7],[0.45,0.78],[0.54,0.83],[0.6,0.81],[0.67,0.7],[0.74,0.5],[0.8,0.28],[0.86,0.08],[0.9,0]],
[[-0.85,0],[-0.82,0.12],[-0.78,0.22],[-0.72,0.3],[-0.66,0.35],[-0.58,0.43],[-0.5,0.51],[-0.4,0.57],[-0.3,0.61],[-0.2,0.64],[-0.1,0.635],[0,0.63],[0.15,0.66],[0.3,0.72],[0.42,0.77],[0.5,0.8],[0.58,0.8],[0.65,0.73],[0.72,0.58],[0.78,0.38],[0.84,0.15],[0.9,0]],
[[-0.8,0],[-0.76,0.12],[-0.7,0.25],[-0.63,0.33],[-0.55,0.4],[-0.45,0.46],[-0.35,0.51],[-0.25,0.56],[-0.15,0.61],[-0.05,0.63],[0.05,0.64],[0.15,0.66],[0.3,0.7],[0.45,0.75],[0.55,0.79],[0.65,0.81],[0.72,0.8],[0.78,0.7],[0.82,0.5],[0.86,0.25],[0.9,0]],
[[-0.84,0],[-0.8,0.12],[-0.74,0.22],[-0.66,0.3],[-0.56,0.36],[-0.46,0.42],[-0.36,0.47],[-0.26,0.53],[-0.16,0.58],[-0.06,0.62],[0.04,0.64],[0.15,0.66],[0.3,0.69],[0.45,0.73],[0.6,0.78],[0.7,0.83],[0.78,0.87],[0.83,0.88],[0.87,0.8],[0.9,0.55],[0.93,0.25],[0.96,0]]
];

const blue = [
[[-0.3,0],[-0.27,0.1],[-0.23,0.4],[-0.18,0.9],[-0.13,1.35],[-0.08,1.6],[-0.03,1.67],[0.05,1.68],[0.15,1.71],[0.25,1.77],[0.32,1.83],[0.37,1.85],[0.4,1.75],[0.44,1.35],[0.48,0.8],[0.52,0.3],[0.55,0.07],[0.57,0]],
[[-0.32,0],[-0.28,0.1],[-0.23,0.38],[-0.17,0.8],[-0.1,1.25],[-0.03,1.55],[0.03,1.66],[0.1,1.69],[0.2,1.75],[0.28,1.83],[0.32,1.86],[0.36,1.78],[0.41,1.4],[0.46,0.88],[0.51,0.38],[0.55,0.08],[0.58,0]],
[[-0.32,0],[-0.29,0.03],[-0.22,0.22],[-0.13,0.46],[-0.06,0.8],[0.01,1.1],[0.07,1.33],[0.12,1.5],[0.18,1.62],[0.23,1.68],[0.3,1.76],[0.36,1.83],[0.41,1.86],[0.45,1.78],[0.5,1.4],[0.55,0.92],[0.6,0.42],[0.64,0.1],[0.66,0]],
[[-0.3,0],[-0.2,0.08],[-0.11,0.38],[-0.02,0.7],[0.07,0.95],[0.15,1.22],[0.21,1.46],[0.27,1.68],[0.32,1.82],[0.36,1.87],[0.43,1.72],[0.5,1.42],[0.57,1.05],[0.63,0.62],[0.68,0.3],[0.72,0.08],[0.75,0]],
[[-0.35,0],[-0.25,0.04],[-0.15,0.25],[-0.05,0.6],[0.05,1.0],[0.15,1.38],[0.25,1.68],[0.31,1.8],[0.36,1.86],[0.42,1.8],[0.48,1.58],[0.55,1.18],[0.61,0.75],[0.66,0.38],[0.7,0.12],[0.74,0]],
[[-0.38,0],[-0.3,0.02],[-0.2,0.1],[-0.1,0.3],[0,0.58],[0.1,0.9],[0.2,1.25],[0.3,1.58],[0.37,1.8],[0.42,1.88],[0.47,1.82],[0.53,1.6],[0.6,1.18],[0.66,0.72],[0.71,0.32],[0.75,0.08],[0.79,0]],
[[-0.39,0],[-0.36,0.1],[-0.32,0.35],[-0.27,0.75],[-0.22,1.05],[-0.16,1.22],[-0.1,1.26],[0,1.26],[0.1,1.27],[0.2,1.3],[0.3,1.37],[0.38,1.46],[0.42,1.49],[0.45,1.3],[0.5,0.85],[0.55,0.4],[0.58,0.1],[0.6,0]],
[[-0.38,0],[-0.34,0.08],[-0.29,0.35],[-0.23,0.7],[-0.16,1.0],[-0.08,1.2],[0,1.26],[0.1,1.28],[0.2,1.32],[0.3,1.4],[0.36,1.46],[0.4,1.49],[0.45,1.38],[0.5,1.08],[0.56,0.65],[0.61,0.25],[0.65,0]],
[[-0.36,0],[-0.32,0.05],[-0.26,0.25],[-0.2,0.5],[-0.13,0.78],[-0.06,1.02],[0.01,1.18],[0.08,1.26],[0.15,1.29],[0.25,1.34],[0.35,1.43],[0.44,1.5],[0.49,1.42],[0.54,1.15],[0.6,0.75],[0.66,0.35],[0.71,0.08],[0.74,0]],
[[-0.39,0],[-0.32,0.05],[-0.24,0.22],[-0.16,0.42],[-0.08,0.62],[0,0.82],[0.06,1.0],[0.12,1.18],[0.18,1.28],[0.26,1.35],[0.34,1.42],[0.41,1.48],[0.46,1.5],[0.51,1.38],[0.57,1.05],[0.63,0.62],[0.68,0.28],[0.72,0.07],[0.75,0]],
[[-0.45,0],[-0.35,0.04],[-0.25,0.18],[-0.15,0.4],[-0.05,0.65],[0.05,0.92],[0.15,1.18],[0.25,1.35],[0.35,1.46],[0.43,1.5],[0.5,1.42],[0.57,1.15],[0.63,0.8],[0.69,0.42],[0.74,0.13],[0.77,0]],
[[-0.32,0],[-0.22,0.08],[-0.1,0.3],[0,0.55],[0.1,0.82],[0.2,1.1],[0.3,1.32],[0.38,1.45],[0.46,1.53],[0.52,1.48],[0.58,1.25],[0.64,0.9],[0.7,0.5],[0.75,0.18],[0.79,0.03],[0.81,0]],
[[-0.45,0],[-0.42,0.1],[-0.38,0.35],[-0.33,0.65],[-0.27,0.88],[-0.21,0.98],[-0.15,1.01],[0,1.005],[0.15,1.02],[0.3,1.08],[0.4,1.18],[0.46,1.27],[0.49,1.3],[0.53,1.1],[0.57,0.7],[0.61,0.3],[0.64,0.06],[0.65,0]],
[[-0.44,0],[-0.4,0.08],[-0.35,0.32],[-0.29,0.6],[-0.22,0.8],[-0.14,0.93],[-0.06,0.99],[0,1.005],[0.15,1.02],[0.3,1.08],[0.45,1.15],[0.55,1.22],[0.62,1.29],[0.65,1.31],[0.7,1.15],[0.76,0.75],[0.82,0.35],[0.88,0.08],[0.92,0]],
[[-0.52,0],[-0.46,0.05],[-0.38,0.2],[-0.3,0.38],[-0.2,0.58],[-0.1,0.76],[0,0.9],[0.08,0.97],[0.17,1.01],[0.28,1.06],[0.4,1.13],[0.5,1.22],[0.58,1.32],[0.63,1.36],[0.68,1.25],[0.74,0.9],[0.8,0.5],[0.86,0.18],[0.91,0.03],[0.93,0]],
[[-0.42,0],[-0.35,0.06],[-0.27,0.18],[-0.17,0.35],[-0.08,0.5],[0.02,0.66],[0.1,0.85],[0.16,0.98],[0.22,1.03],[0.3,1.08],[0.38,1.15],[0.45,1.25],[0.5,1.33],[0.54,1.36],[0.6,1.25],[0.66,0.95],[0.72,0.55],[0.78,0.2],[0.82,0.04],[0.84,0]],
[[-0.4,0],[-0.3,0.06],[-0.2,0.2],[-0.1,0.4],[0,0.62],[0.08,0.82],[0.15,0.98],[0.22,1.05],[0.3,1.12],[0.38,1.2],[0.46,1.3],[0.52,1.36],[0.57,1.3],[0.62,1.05],[0.67,0.68],[0.72,0.32],[0.76,0.08],[0.78,0]],
[[-0.46,0],[-0.36,0.06],[-0.25,0.18],[-0.15,0.36],[-0.05,0.58],[0.05,0.82],[0.12,0.96],[0.2,1.0],[0.3,1.05],[0.4,1.13],[0.5,1.25],[0.58,1.35],[0.63,1.39],[0.68,1.3],[0.73,1.0],[0.78,0.55],[0.83,0.15],[0.865,0]],
[[-0.55,0],[-0.52,0.08],[-0.47,0.35],[-0.41,0.6],[-0.35,0.76],[-0.29,0.84],[-0.22,0.86],[-0.1,0.85],[0,0.847],[0.15,0.86],[0.3,0.93],[0.42,1.02],[0.5,1.12],[0.55,1.185],[0.59,1.0],[0.63,0.6],[0.67,0.22],[0.7,0.04],[0.71,0]],
[[-0.52,0],[-0.48,0.07],[-0.42,0.3],[-0.35,0.54],[-0.28,0.7],[-0.21,0.79],[-0.14,0.83],[0,0.838],[0.15,0.86],[0.3,0.93],[0.4,1.01],[0.48,1.1],[0.53,1.18],[0.57,1.24],[0.61,1.1],[0.66,0.75],[0.71,0.35],[0.76,0.08],[0.79,0]],
[[-0.53,0],[-0.48,0.05],[-0.4,0.22],[-0.32,0.42],[-0.24,0.6],[-0.16,0.73],[-0.08,0.81],[0,0.845],[0.1,0.86],[0.2,0.88],[0.3,0.92],[0.4,0.98],[0.5,1.07],[0.58,1.17],[0.65,1.23],[0.69,1.15],[0.74,0.8],[0.8,0.38],[0.86,0.08],[0.9,0]],
[[-0.52,0],[-0.45,0.04],[-0.38,0.15],[-0.3,0.32],[-0.22,0.5],[-0.14,0.64],[-0.06,0.76],[0.03,0.83],[0.1,0.86],[0.2,0.89],[0.3,0.95],[0.4,1.03],[0.48,1.12],[0.55,1.22],[0.6,1.26],[0.64,1.2],[0.69,0.95],[0.74,0.6],[0.79,0.28],[0.83,0.07],[0.86,0]],
[[-0.52,0],[-0.45,0.08],[-0.35,0.25],[-0.26,0.4],[-0.19,0.52],[-0.1,0.66],[-0.03,0.76],[0.05,0.83],[0.12,0.85],[0.22,0.88],[0.32,0.93],[0.42,1.02],[0.5,1.12],[0.58,1.22],[0.65,1.28],[0.7,1.2],[0.74,0.9],[0.78,0.5],[0.82,0.18],[0.85,0.03],[0.86,0]],
[[-0.5,0],[-0.42,0.06],[-0.32,0.2],[-0.22,0.38],[-0.12,0.58],[-0.04,0.74],[0.02,0.83],[0.1,0.85],[0.2,0.88],[0.3,0.92],[0.4,0.99],[0.5,1.09],[0.58,1.2],[0.64,1.29],[0.68,1.33],[0.72,1.25],[0.76,1.0],[0.8,0.65],[0.84,0.3],[0.87,0.08],[0.89,0]],
[[-0.61,0],[-0.58,0.12],[-0.54,0.34],[-0.51,0.55],[-0.48,0.72],[-0.44,0.8],[-0.4,0.82],[-0.3,0.78],[0,0.728],[0.3,0.78],[0.45,0.88],[0.52,0.98],[0.57,1.1],[0.62,1.18],[0.65,1.05],[0.68,0.7],[0.71,0.3],[0.74,0.05],[0.75,0]],
[[-0.58,0],[-0.53,0.08],[-0.48,0.2],[-0.43,0.37],[-0.39,0.51],[-0.33,0.63],[-0.27,0.71],[-0.2,0.74],[-0.1,0.735],[0,0.728],[0.15,0.745],[0.3,0.8],[0.42,0.88],[0.5,0.98],[0.56,1.1],[0.6,1.17],[0.64,1.05],[0.68,0.7],[0.71,0.3],[0.73,0.06],[0.74,0]],
[[-0.61,0],[-0.56,0.05],[-0.52,0.16],[-0.47,0.3],[-0.43,0.42],[-0.38,0.55],[-0.33,0.65],[-0.27,0.7],[-0.2,0.72],[0,0.728],[0.15,0.75],[0.3,0.82],[0.42,0.9],[0.5,1.0],[0.57,1.1],[0.63,1.18],[0.67,1.08],[0.71,0.75],[0.75,0.35],[0.79,0.08],[0.81,0]],
[[-0.59,0],[-0.54,0.1],[-0.5,0.2],[-0.45,0.29],[-0.4,0.4],[-0.35,0.5],[-0.28,0.58],[-0.2,0.65],[-0.1,0.69],[0,0.71],[0.1,0.73],[0.2,0.77],[0.3,0.84],[0.4,0.94],[0.48,1.04],[0.55,1.16],[0.61,1.22],[0.65,1.12],[0.69,0.85],[0.73,0.5],[0.77,0.2],[0.81,0.04],[0.83,0]],
[[-0.56,0],[-0.5,0.1],[-0.45,0.18],[-0.4,0.28],[-0.32,0.4],[-0.24,0.5],[-0.16,0.58],[-0.08,0.65],[0,0.7],[0.1,0.73],[0.2,0.77],[0.3,0.83],[0.4,0.9],[0.5,1.0],[0.58,1.12],[0.64,1.24],[0.68,1.27],[0.72,1.15],[0.76,0.85],[0.8,0.45],[0.84,0.12],[0.86,0]],
[[-0.5,0],[-0.44,0.08],[-0.38,0.17],[-0.32,0.26],[-0.25,0.37],[-0.18,0.5],[-0.1,0.6],[-0.03,0.68],[0.05,0.73],[0.15,0.76],[0.25,0.8],[0.35,0.86],[0.45,0.95],[0.55,1.07],[0.62,1.22],[0.68,1.33],[0.72,1.28],[0.76,1.05],[0.8,0.7],[0.84,0.35],[0.87,0.1],[0.89,0]],
[[-0.65,0],[-0.62,0.15],[-0.59,0.35],[-0.56,0.52],[-0.53,0.65],[-0.49,0.73],[-0.44,0.77],[-0.35,0.72],[-0.25,0.67],[0,0.63],[0.25,0.67],[0.4,0.75],[0.5,0.84],[0.58,0.95],[0.64,1.08],[0.69,1.18],[0.72,1.05],[0.75,0.7],[0.78,0.3],[0.8,0]],
[[-0.65,0],[-0.62,0.1],[-0.59,0.22],[-0.57,0.3],[-0.53,0.45],[-0.49,0.56],[-0.44,0.64],[-0.39,0.69],[-0.3,0.7],[-0.2,0.66],[0,0.63],[0.2,0.66],[0.4,0.75],[0.5,0.83],[0.58,0.95],[0.64,1.08],[0.69,1.17],[0.73,1.02],[0.76,0.7],[0.79,0.3],[0.815,0]],
[[-0.67,0],[-0.64,0.08],[-0.61,0.17],[-0.57,0.3],[-0.535,0.43],[-0.48,0.53],[-0.43,0.59],[-0.36,0.63],[-0.28,0.65],[-0.15,0.645],[0,0.63],[0.15,0.65],[0.3,0.71],[0.45,0.82],[0.55,0.96],[0.63,1.1],[0.69,1.22],[0.73,1.12],[0.77,0.8],[0.81,0.42],[0.85,0.12],[0.88,0]],
[[-0.67,0],[-0.62,0.08],[-0.56,0.2],[-0.5,0.32],[-0.45,0.41],[-0.38,0.5],[-0.3,0.56],[-0.2,0.6],[-0.1,0.62],[0,0.63],[0.1,0.65],[0.2,0.69],[0.3,0.76],[0.4,0.86],[0.48,0.98],[0.55,1.12],[0.6,1.22],[0.64,1.18],[0.68,0.95],[0.72,0.6],[0.76,0.3],[0.8,0.1],[0.84,0]],
[[-0.62,0],[-0.56,0.08],[-0.5,0.2],[-0.45,0.3],[-0.4,0.41],[-0.32,0.5],[-0.24,0.56],[-0.14,0.61],[-0.04,0.63],[0.06,0.645],[0.2,0.67],[0.32,0.72],[0.45,0.82],[0.55,0.95],[0.62,1.08],[0.67,1.2],[0.7,1.27],[0.74,1.18],[0.78,0.9],[0.82,0.5],[0.85,0.2],[0.88,0]],
[[-0.64,0],[-0.56,0.08],[-0.49,0.2],[-0.42,0.3],[-0.34,0.41],[-0.26,0.5],[-0.18,0.56],[-0.1,0.6],[-0.03,0.635],[0.05,0.65],[0.2,0.67],[0.35,0.72],[0.48,0.8],[0.58,0.9],[0.66,1.02],[0.72,1.14],[0.77,1.25],[0.815,1.32],[0.85,1.25],[0.88,0.9],[0.91,0.45],[0.93,0.15],[0.94,0]]
];

// ---------- drawing ----------
const W = 1177, H = 808;
const L = 0.125 * W, R = 0.9 * W, T = 0.1 * H, B = 0.9 * H;
const pw = (R - L) / (6 + 5 * 0.2), ph = (B - T) / (6 + 5 * 0.2);
const svg = d3.select('#c');
const defs = svg.append('defs');
const fmt = v => { const a = Math.abs(v) < 1e-9 ? 0 : v; return d3.format('.1f')(a).replace('-', '\u2212'); };
const series = [
  {data: blue, color: '#0000ff', op: 0.22},
  {data: green, color: '#008000', op: 0.22},
  {data: red, color: '#ff0000', op: 0.22},
  {data: magenta, color: '#bf00bf', op: 1}
];
const FONT = '"DejaVu Sans", sans-serif', FS = 17;

for (let i = 0; i < 36; i++) {
  const r = Math.floor(i / 6), c = i % 6;
  const x0 = L + c * pw * 1.2, y0 = T + r * ph * 1.2;
  const [xmin, xmax] = xDomains[i];
  const ymax = yMaxes[i];
  const x = d3.scaleLinear().domain([xmin, xmax]).range([x0, x0 + pw]);
  const y = d3.scaleLinear().domain([0, ymax]).range([y0 + ph, y0]);
  const xs = (xmax - xmin) > 1.85 ? 0.5 : 0.2;
  const ys = ymax >= 2 ? 0.5 : 0.2;
  const xt = d3.range(Math.round(xmin / xs), Math.round(xmax / xs) + 1).map(k => +(k * xs).toFixed(2));
  const yt = d3.range(0, Math.round(ymax / ys) + 1).map(k => +(k * ys).toFixed(2));

  const g = svg.append('g');
  g.append('rect').attr('x', x0).attr('y', y0).attr('width', pw).attr('height', ph).attr('fill', '#fff');
  defs.append('clipPath').attr('id', 'cp' + i).append('rect')
    .attr('x', x0).attr('y', y0).attr('width', pw).attr('height', ph);
  const line = d3.line().x(d => x(d[0])).y(d => y(d[1])).curve(d3.curveMonotoneX);
  const lg = g.append('g').attr('clip-path', `url(#cp${i})`);
  series.forEach(s => {
    lg.append('path').attr('d', line(s.data[i])).attr('fill', 'none')
      .attr('stroke', s.color).attr('stroke-opacity', s.op).attr('stroke-width', 1.4)
      .attr('stroke-linejoin', 'round');
  });

  const styleAxis = sel => {
    sel.selectAll('path.domain').attr('stroke', '#000').attr('stroke-width', 1);
    sel.selectAll('.tick line').attr('stroke', '#000').attr('stroke-width', 0.8);
    sel.selectAll('text').attr('font-family', FONT).attr('font-size', FS).attr('fill', '#000');
    sel.attr('font-family', FONT).attr('font-size', FS);
  };
  g.append('g').attr('transform', `translate(0,${y0 + ph})`)
    .call(d3.axisBottom(x).tickValues(xt).tickSize(-5).tickSizeOuter(0).tickPadding(3).tickFormat(fmt)).call(styleAxis);
  g.append('g').attr('transform', `translate(0,${y0})`)
    .call(d3.axisTop(x).tickValues(xt).tickSize(-5).tickSizeOuter(0).tickFormat('')).call(styleAxis);
  g.append('g').attr('transform', `translate(${x0},0)`)
    .call(d3.axisLeft(y).tickValues(yt).tickSize(-5).tickSizeOuter(0).tickPadding(2).tickFormat(fmt)).call(styleAxis);
  g.append('g').attr('transform', `translate(${x0 + pw},0)`)
    .call(d3.axisRight(y).tickValues(yt).tickSize(-5).tickSizeOuter(0).tickFormat('')).call(styleAxis);
}
</script>
</body></html>
